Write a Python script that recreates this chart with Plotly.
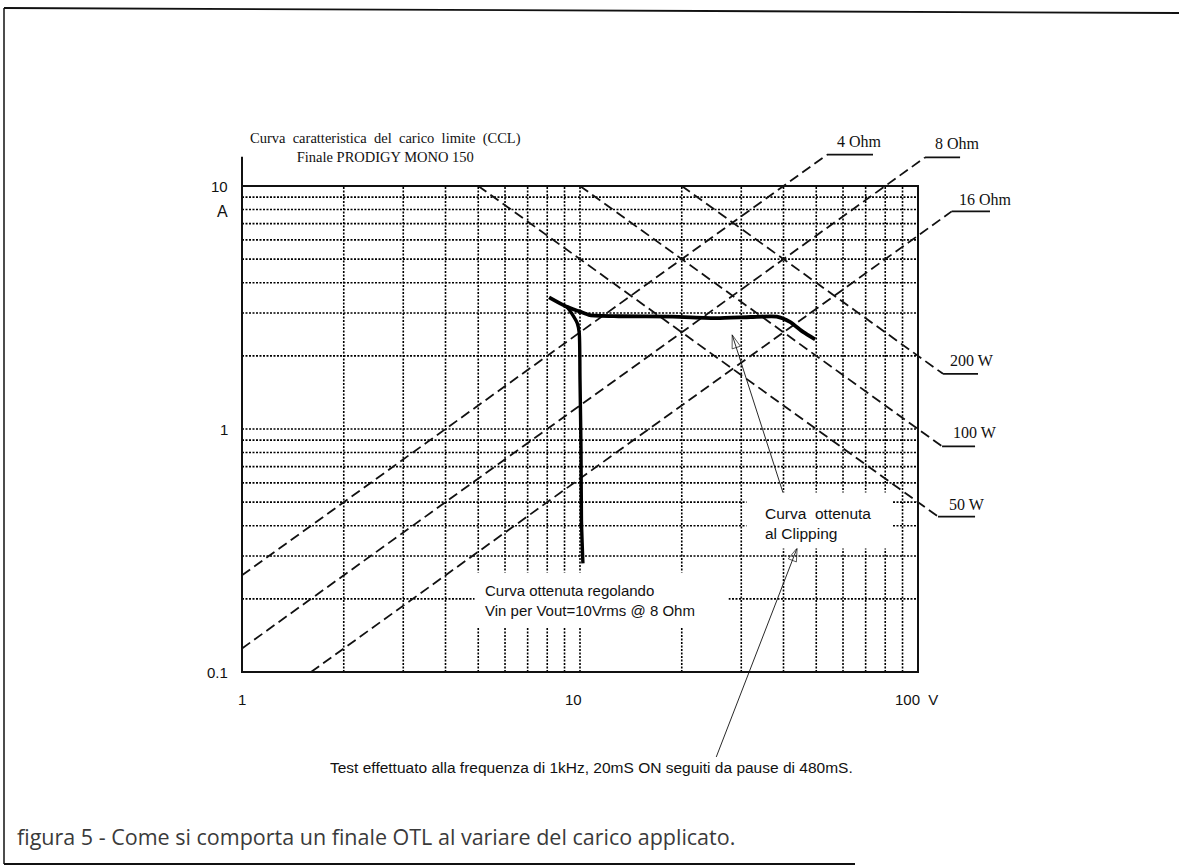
import numpy as np
import plotly.graph_objects as go

# ---------------- data ----------------
# log-log paper grid (V on x, A on y)
V_MIN, V_MAX = 1, 100
I_MIN, I_MAX = 0.1, 10
GRID_V = [2, 3, 4, 5, 6, 7, 8, 9, 10, 20, 30, 40, 50, 60, 70, 80, 90]
GRID_I = [0.2, 0.3, 0.4, 0.5, 0.6, 0.7, 0.8, 0.9, 1, 2, 3, 4, 5, 6, 7, 8, 9]

X_TICK_VALS = [1, 10, 100]
X_TICK_TEXT = ["1", "10", "100  V"]
Y_TICK_VALS = [10, 1, 0.1]
Y_TICK_TEXT = ["10", "1", "0.1"]
Y_UNIT = "A"

# load lines  I = V / R
LOAD_R = [4, 8, 16]
LOAD_LABELS = ["4 Ohm", "8 Ohm", "16 Ohm"]
LOAD_LEADER_V = [53.8, 104.9, 125.8]
LOAD_TAG_V = [73.6, 133.2, 163.3]
LOAD_LABEL_V = [67.3, 131.3, 158.9]
LOAD_LABEL_I = [15.2, 14.9, 8.76]

# power hyperbolas  I = P / V
POWER_P = [200, 100, 50]
POWER_LABELS = ["200 W", "100 W", "50 W"]
POWER_LEADER_V = [118.6, 117.8, 114.6]
POWER_TAG_V = [150.5, 147.5, 147.5]
POWER_LABEL_V = [144.5, 147.5, 139.6]
POWER_LABEL_I = [1.905, 0.963, 0.487]

# measured curve at clipping
CLIP_V = [8.1, 9.1, 10.0, 10.7, 13.0, 18.8, 25.4, 32.0, 38.2, 41.8, 45.7, 49.6]
CLIP_I = [3.48, 3.19, 3.04, 2.94, 2.91, 2.90, 2.86, 2.89, 2.90, 2.76, 2.51, 2.34]

# curve obtained regulating Vin for Vout = 10 Vrms @ 8 Ohm
REG_V = [9.14, 9.45, 9.82, 9.95, 10.0, 10.07, 10.1, 10.2]
REG_I = [3.19, 2.99, 2.72, 2.48, 1.6, 0.82, 0.42, 0.28]

# arrows (tail -> tip)
ARROW_TAIL_V = [39.9, 25.3]
ARROW_TAIL_I = [0.545, 0.0447]
ARROW_TIP_V = [28.2, 43.9]
ARROW_TIP_I = [2.44, 0.324]

TITLE = "Curva  caratteristica  del  carico  limite  (CCL)<br>Finale PRODIGY MONO 150"
NOTE_CLIP = "Curva  ottenuta<br>al Clipping"
NOTE_REG = "Curva ottenuta regolando<br>Vin per Vout=10Vrms @ 8 Ohm"
NOTE_TEST = "Test effettuato alla frequenza di 1kHz, 20mS ON seguiti da pause di 480mS."
CAPTION = "figura 5 - Come si comporta un finale OTL al variare del carico applicato."

# ---------------- geometry / style ----------------
FIG_W, FIG_H = 1179, 867
BOX_L, BOX_R, BOX_T, BOX_B = 242, 918, 186, 672
XD = (BOX_R - BOX_L) / np.log10(V_MAX / V_MIN)
YD = (BOX_B - BOX_T) / np.log10(I_MAX / I_MIN)
XR = [np.log10(V_MIN) - BOX_L / XD, np.log10(V_MAX) + (FIG_W - BOX_R) / XD]
YR = [np.log10(I_MIN) - (FIG_H - BOX_B) / YD, np.log10(I_MAX) + BOX_T / YD]

SERIF = "Liberation Serif, Times New Roman, serif"
SANS = "Liberation Sans, Arial, sans-serif"
INK = "#111111"
L = np.log10

fig = go.Figure()

# grid
gx, gy = [], []
for v in GRID_V:
    gx += [v, v, None]
    gy += [I_MIN, I_MAX, None]
for i in GRID_I:
    gx += [V_MIN, V_MAX, None]
    gy += [i, i, None]
fig.add_trace(go.Scatter(x=gx, y=gy, mode="lines",
                         line=dict(color="#000000", width=1.6, dash="2px,1.5px"),
                         hoverinfo="skip"))

# frame
fig.add_trace(go.Scatter(x=[V_MIN, V_MIN, V_MAX, V_MAX, V_MIN],
                         y=[I_MAX * 1.32, I_MIN, I_MIN, I_MAX, I_MAX],
                         mode="lines", line=dict(color=INK, width=2),
                         hoverinfo="skip"))

# load lines
for r, vl, vt in zip(LOAD_R, LOAD_LEADER_V, LOAD_TAG_V):
    v0 = max(V_MIN, I_MIN * r)
    fig.add_trace(go.Scatter(x=[v0, vl], y=[v0 / r, vl / r], mode="lines",
                             line=dict(color=INK, width=1.8, dash="10px,5px"),
                             hoverinfo="skip"))
    fig.add_trace(go.Scatter(x=[vl, vt], y=[vl / r, vl / r], mode="lines",
                             line=dict(color=INK, width=1.8), hoverinfo="skip"))

# power hyperbolas (straight lines on log-log paper)
for p, vl, vt in zip(POWER_P, POWER_LEADER_V, POWER_TAG_V):
    v0 = p / I_MAX
    fig.add_trace(go.Scatter(x=[v0, vl], y=[I_MAX, p / vl], mode="lines",
                             line=dict(color=INK, width=1.8, dash="10px,5px"),
                             hoverinfo="skip"))
    fig.add_trace(go.Scatter(x=[vl, vt], y=[p / vl, p / vl], mode="lines",
                             line=dict(color=INK, width=1.8), hoverinfo="skip"))

# measured curves
fig.add_trace(go.Scatter(x=CLIP_V, y=CLIP_I, mode="lines",
                         line=dict(color="black", width=3.8, shape="spline", smoothing=0.6),
                         hoverinfo="skip"))
fig.add_trace(go.Scatter(x=REG_V, y=REG_I, mode="lines",
                         line=dict(color="black", width=3.4, shape="spline", smoothing=0.6),
                         hoverinfo="skip"))

annotations = []
# white masks behind the notes (they interrupt the grid)
annotations.append(dict(x=L(51.1), y=L(0.420), xref="x", yref="y", text=" ",
                        showarrow=False, width=145, height=55, bgcolor="white",
                        borderpad=0))
annotations.append(dict(x=L(11.58), y=L(0.198), xref="x", yref="y", text=" ",
                        showarrow=False, width=253, height=54, bgcolor="white",
                        borderpad=0))

# arrows
for tv, ti, hv, hi in zip(ARROW_TAIL_V, ARROW_TAIL_I, ARROW_TIP_V, ARROW_TIP_I):
    fig.add_trace(go.Scatter(x=[tv, hv], y=[ti, hi], mode="lines+markers",
                             line=dict(color=INK, width=0.9),
                             marker=dict(symbol="arrow-open", size=[0, 14], angleref="previous",
                                         color=INK, line=dict(color=INK, width=1)),
                             hoverinfo="skip"))

# notes
annotations.append(dict(x=L(34.8), y=L(0.410), xref="x", yref="y", text=NOTE_CLIP,
                        showarrow=False, xanchor="left", yanchor="middle", align="left",
                        font=dict(family=SANS, size=15.5, color=INK)))
annotations.append(dict(x=L(5.16), y=L(0.196), xref="x", yref="y", text=NOTE_REG,
                        showarrow=False, xanchor="left", yanchor="middle", align="left",
                        font=dict(family=SANS, size=15, color=INK)))
annotations.append(dict(x=L(10.85), y=L(0.0406), xref="x", yref="y", text=NOTE_TEST,
                        showarrow=False, xanchor="center", yanchor="middle",
                        font=dict(family=SANS, size=15.5, color=INK)))

# title
annotations.append(dict(x=L(2.65), y=L(14.47), xref="x", yref="y", text=TITLE,
                        showarrow=False, xanchor="center", yanchor="middle",
                        font=dict(family=SERIF, size=14.5, color=INK)))

# line labels
for lab, lv, li in zip(LOAD_LABELS + POWER_LABELS, LOAD_LABEL_V + POWER_LABEL_V,
                       LOAD_LABEL_I + POWER_LABEL_I):
    annotations.append(dict(x=L(lv), y=L(li), xref="x", yref="y", text=lab,
                            showarrow=False, xanchor="center", yanchor="middle",
                            font=dict(family=SERIF, size=16, color=INK)))

# tick labels
X_SHIFTS = [0, -7, -25]
for v, t, sh in zip(X_TICK_VALS, X_TICK_TEXT, X_SHIFTS):
    anc = "left" if v == V_MAX else "center"
    annotations.append(dict(x=L(v), y=L(I_MIN), xref="x", yref="y", text=t,
                            showarrow=False, xanchor=anc, yanchor="middle",
                            xshift=sh, yshift=-27,
                            font=dict(family=SANS, size=15, color=INK)))
for i, t in zip(Y_TICK_VALS, Y_TICK_TEXT):
    annotations.append(dict(x=L(V_MIN), y=L(i), xref="x", yref="y", text=t,
                            showarrow=False, xanchor="right", yanchor="middle",
                            xshift=-12, font=dict(family=SANS, size=15, color=INK)))
annotations.append(dict(x=L(V_MIN), y=L(I_MAX), xref="x", yref="y", text=Y_UNIT,
                        showarrow=False, xanchor="right", yanchor="middle",
                        xshift=-12, yshift=-25, font=dict(family=SANS, size=16, color=INK)))

# caption (page level)
annotations.append(dict(x=15 / FIG_W, y=1 - 836 / FIG_H, xref="paper", yref="paper",
                        text=CAPTION, showarrow=False, xanchor="left", yanchor="middle",
                        font=dict(family="Open Sans, Liberation Sans, sans-serif",
                                  size=21.5, color="#3a3a3a")))

# page frame
shapes = [
    dict(type="line", xref="paper", yref="paper", x0=4 / FIG_W, x1=4 / FIG_W,
         y0=1 - 8 / FIG_H, y1=1 - 864 / FIG_H, line=dict(color=INK, width=1.5)),
    dict(type="line", xref="paper", yref="paper", x0=4 / FIG_W, x1=1,
         y0=1 - 8 / FIG_H, y1=1 - 13 / FIG_H, line=dict(color=INK, width=1.8)),
    dict(type="line", xref="paper", yref="paper", x0=4 / FIG_W, x1=855 / FIG_W,
         y0=1 - 864 / FIG_H, y1=1 - 864 / FIG_H, line=dict(color=INK, width=1.8)),
]

fig.update_layout(
    width=FIG_W, height=FIG_H, margin=dict(l=0, r=0, t=0, b=0, pad=0),
    paper_bgcolor="white", plot_bgcolor="white", showlegend=False,
    xaxis=dict(type="log", range=XR, visible=False, fixedrange=True),
    yaxis=dict(type="log", range=YR, visible=False, fixedrange=True),
    annotations=annotations, shapes=shapes,
)

fig.write_html("out.html", config={"displayModeBar": False},
               post_script="document.body.style.margin='0';")
